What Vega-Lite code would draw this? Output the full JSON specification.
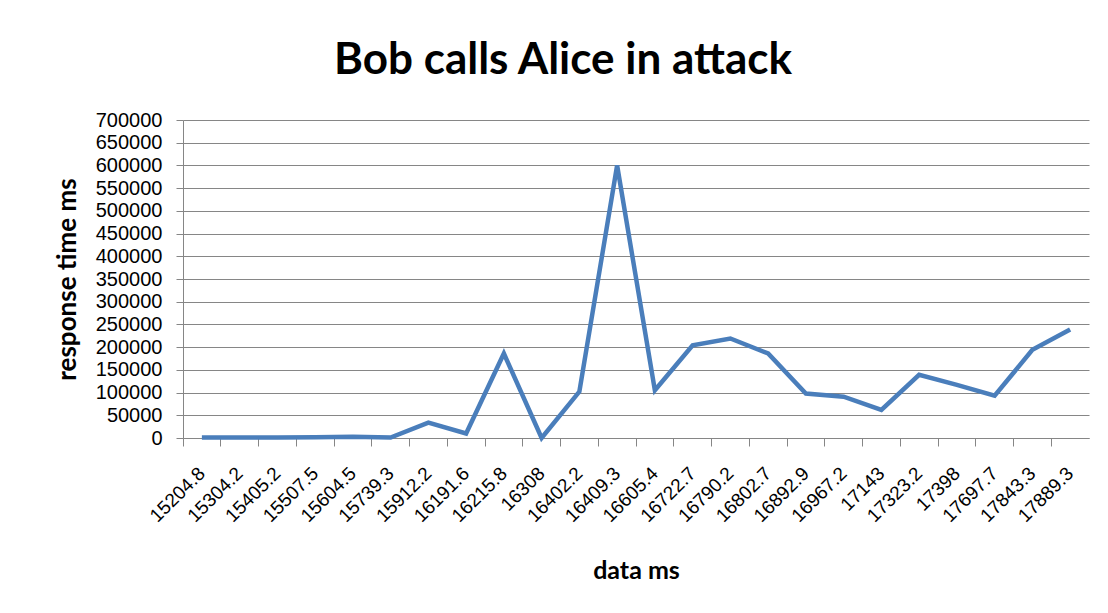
{
  "$schema": "https://vega.github.io/schema/vega-lite/v6.json",
  "width": 906,
  "height": 318,
  "autosize": "none",
  "padding": {"left": 183, "top": 120, "right": 19, "bottom": 175},
  "background": "white",
  "title": {
    "text": "Bob calls Alice in attack",
    "font": "Lato",
    "fontSize": 44,
    "fontWeight": "bold",
    "color": "#000000",
    "anchor": "middle",
    "dx": -73,
    "dy": 44,
    "offset": 36,
    "baseline": "alphabetic"
  },
  "data": {
    "values": [
      {"t": "15204.8", "r": 1000},
      {"t": "15304.2", "r": 1000},
      {"t": "15405.2", "r": 1000},
      {"t": "15507.5", "r": 1500},
      {"t": "15604.5", "r": 3000},
      {"t": "15739.3", "r": 1000},
      {"t": "15912.2", "r": 34000},
      {"t": "16191.6", "r": 10000},
      {"t": "16215.8", "r": 186000},
      {"t": "16308", "r": 0},
      {"t": "16402.2", "r": 102000},
      {"t": "16409.3", "r": 600000},
      {"t": "16605.4", "r": 105000},
      {"t": "16722.7", "r": 204000},
      {"t": "16790.2", "r": 219000},
      {"t": "16802.7", "r": 186000},
      {"t": "16892.9", "r": 98000},
      {"t": "16967.2", "r": 91000},
      {"t": "17143", "r": 62000},
      {"t": "17323.2", "r": 139000},
      {"t": "17398", "r": 117000},
      {"t": "17697.7", "r": 93000},
      {"t": "17843.3", "r": 194000},
      {"t": "17889.3", "r": 239000}
    ]
  },
  "mark": {"type": "line", "color": "#4A7EBB", "strokeWidth": 4.5, "strokeJoin": "miter"},
  "encoding": {
    "x": {
      "field": "t",
      "type": "ordinal",
      "sort": null,
      "bandPosition": 0.5,
      "scale": {"type": "band", "paddingInner": 0, "paddingOuter": 0},
      "axis": {
        "title": "data ms",
        "titleFont": "Lato",
        "titleFontSize": 25,
        "titleFontWeight": "bold",
        "titleColor": "#000000",
        "titlePadding": 33,
        "bandPosition": 0,
        "labelAngle": -45,
        "labelAlign": "right",
        "labelBaseline": "middle",
        "labelFont": "Liberation Sans",
        "labelFontSize": 19,
        "labelColor": "#000000",
        "labelPadding": 24,
        "tickColor": "#868686",
        "tickSize": 8,
        "domainColor": "#868686",
        "grid": false
      }
    },
    "y": {
      "field": "r",
      "type": "quantitative",
      "scale": {"domain": [0, 700000], "nice": false},
      "axis": {
        "title": "response time ms",
        "titleFont": "Lato",
        "titleFontSize": 26,
        "titleFontWeight": "bold",
        "titleColor": "#000000",
        "titlePadding": 15,
        "values": [0, 50000, 100000, 150000, 200000, 250000, 300000, 350000, 400000, 450000, 500000, 550000, 600000, 650000, 700000],
        "format": "d",
        "labelFont": "Liberation Sans",
        "labelFontSize": 20,
        "labelColor": "#000000",
        "labelPadding": 14,
        "tickColor": "#868686",
        "tickSize": 7,
        "domainColor": "#868686",
        "grid": true,
        "gridColor": "#868686",
        "gridWidth": 1
      }
    }
  },
  "config": {"view": {"stroke": null}}
}
